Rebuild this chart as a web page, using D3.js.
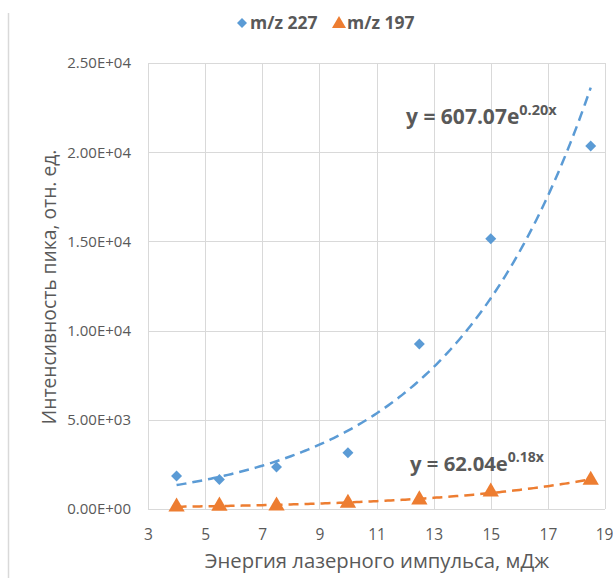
<!DOCTYPE html>
<html>
<head>
<meta charset="utf-8">
<script src="https://cdn.jsdelivr.net/npm/d3@7"></script>
<style>
  html, body { margin: 0; padding: 0; background: #fff; }
  svg { display: block; }
</style>
</head>
<body>
<svg id="chart" width="613" height="578"></svg>
<script>
// Laser pulse energy, mJ
const energy = [4, 5.5, 7.5, 10, 12.5, 15, 18.5];
// Peak intensity, arb. units
const mz227 = [1850, 1650, 2350, 3150, 9250, 15150, 20350];
const mz197 = [120, 170, 180, 330, 520, 960, 1620];

// Exponential trendlines y = a·e^(b·x)
const fit227 = { a: 607.07, b: 0.1979 };
const fit197 = { a: 62.04, b: 0.178 };

const xTicks = [3, 5, 7, 9, 11, 13, 15, 17, 19];
const yTicks = [0, 5000, 10000, 15000, 20000, 25000];

const seriesNames = ["m/z 227", "m/z 197"];
const colors = ["#5B9BD5", "#ED7D31"];

const xTitle = "Энергия лазерного импульса, мДж";
const yTitle = "Интенсивность пика, отн. ед.";

const font = "'Open Sans', 'Liberation Sans', sans-serif";
const textColor = "#595959";
const gridColor = "#D9D9D9";

const svg = d3.select("#chart");
const margin = { left: 148, right: 8, top: 63, bottom: 69 };
const W = 613, H = 578;

const x = d3.scaleLinear().domain([3, 19]).range([margin.left, W - margin.right]);
const y = d3.scaleLinear().domain([0, 25000]).range([H - margin.bottom, margin.top]);

// outer frame edge on the left
svg.append("line")
  .attr("x1", 8.5).attr("x2", 8.5).attr("y1", 13).attr("y2", H)
  .attr("stroke", "#D9D9D9").attr("stroke-width", 1.5);

// gridlines
const grid = svg.append("g").attr("stroke", gridColor).attr("stroke-width", 1);
grid.selectAll(".gx").data(xTicks).join("line")
  .attr("x1", d => Math.round(x(d)) + 0.5).attr("x2", d => Math.round(x(d)) + 0.5)
  .attr("y1", y(25000)).attr("y2", y(0));
grid.selectAll(".gy").data(yTicks).join("line")
  .attr("x1", x(3)).attr("x2", x(19))
  .attr("y1", d => Math.round(y(d)) + 0.5).attr("y2", d => Math.round(y(d)) + 0.5);

// axes
const fmtExp = d => {
  const s = d3.format(".2e")(d).toUpperCase(); // e.g. 2.50E+4
  return s.replace(/E([+-])(\d)$/, "E$10$2");
};

const xAxis = svg.append("g")
  .attr("transform", `translate(0,${y(0)})`)
  .call(d3.axisBottom(x).tickValues(xTicks).tickSize(0).tickPadding(20).tickFormat(d3.format("d")));
xAxis.select(".domain").remove();
xAxis.selectAll("text").attr("font-family", font).attr("font-size", 15.5).attr("fill", textColor);
// keep the last label inside the frame
xAxis.selectAll(".tick").filter(d => d === 19).select("text").attr("dx", -1);

const yAxis = svg.append("g")
  .attr("transform", `translate(${x(3)},0)`)
  .call(d3.axisLeft(y).tickValues(yTicks).tickSize(0).tickPadding(17).tickFormat(fmtExp));
yAxis.select(".domain").remove();
yAxis.selectAll("text").attr("font-family", font).attr("font-size", 15).attr("fill", textColor);

// axis titles
svg.append("text")
  .attr("x", 377).attr("y", 568)
  .attr("text-anchor", "middle")
  .attr("font-family", font).attr("font-size", 20.3).attr("fill", textColor)
  .text(xTitle);
svg.append("text")
  .attr("transform", `translate(56,287) rotate(-90)`)
  .attr("text-anchor", "middle")
  .attr("font-family", font).attr("font-size", 19.3).attr("fill", textColor)
  .text(yTitle);

// trendlines
const trendX = d3.range(4, 18.5001, 0.1);
const line = d3.line().x(d => x(d[0])).y(d => y(d[1]));
[[fit227, colors[0]], [fit197, colors[1]]].forEach(([f, c]) => {
  svg.append("path")
    .datum(trendX.map(v => [v, f.a * Math.exp(f.b * v)]))
    .attr("d", line)
    .attr("fill", "none")
    .attr("stroke", c)
    .attr("stroke-width", 2.5)
    .attr("stroke-dasharray", "10,6");
});

// markers
svg.append("g").selectAll("path")
  .data(energy.map((e, i) => [e, mz227[i]]))
  .join("path")
  .attr("transform", d => `translate(${x(d[0])},${y(d[1])}) rotate(45)`)
  .attr("d", d3.symbol().type(d3.symbolSquare).size(60))
  .attr("fill", colors[0]);

svg.append("g").selectAll("path")
  .data(energy.map((e, i) => [e, mz197[i]]))
  .join("path")
  .attr("transform", d => `translate(${x(d[0])},${y(d[1])})`)
  .attr("d", d3.symbol().type(d3.symbolTriangle).size(115))
  .attr("fill", colors[1]);

// equation labels
function equation(f, px, py, size) {
  const t = svg.append("text")
    .attr("x", px).attr("y", py)
    .attr("font-family", font).attr("font-weight", "bold")
    .attr("font-size", size).attr("fill", textColor);
  t.append("tspan").text(`y = ${f.a.toFixed(2)}e`);
  t.append("tspan").attr("dy", -size * 0.43).attr("font-size", size * 0.69).text(`${f.b.toFixed(2)}x`);
}
equation(fit227, 406, 124, 21);
equation(fit197, 410, 471, 20.3);

// legend
const legend = svg.append("g").attr("font-family", font).attr("font-weight", "bold")
  .attr("font-size", 17.5).attr("fill", textColor);
const lg = [{ x: 242, sym: "d" }, { x: 339, sym: "t" }];
lg.forEach((l, i) => {
  if (l.sym === "d") {
    legend.append("path")
      .attr("transform", `translate(${l.x},23) rotate(45)`)
      .attr("d", d3.symbol().type(d3.symbolSquare).size(50))
      .attr("fill", colors[i]);
  } else {
    legend.append("path")
      .attr("transform", `translate(${l.x},24)`)
      .attr("d", d3.symbol().type(d3.symbolTriangle).size(85))
      .attr("fill", colors[i]);
  }
  legend.append("text").attr("x", l.x + 8).attr("y", 29).text(seriesNames[i]);
});
</script>
</body>
</html>
